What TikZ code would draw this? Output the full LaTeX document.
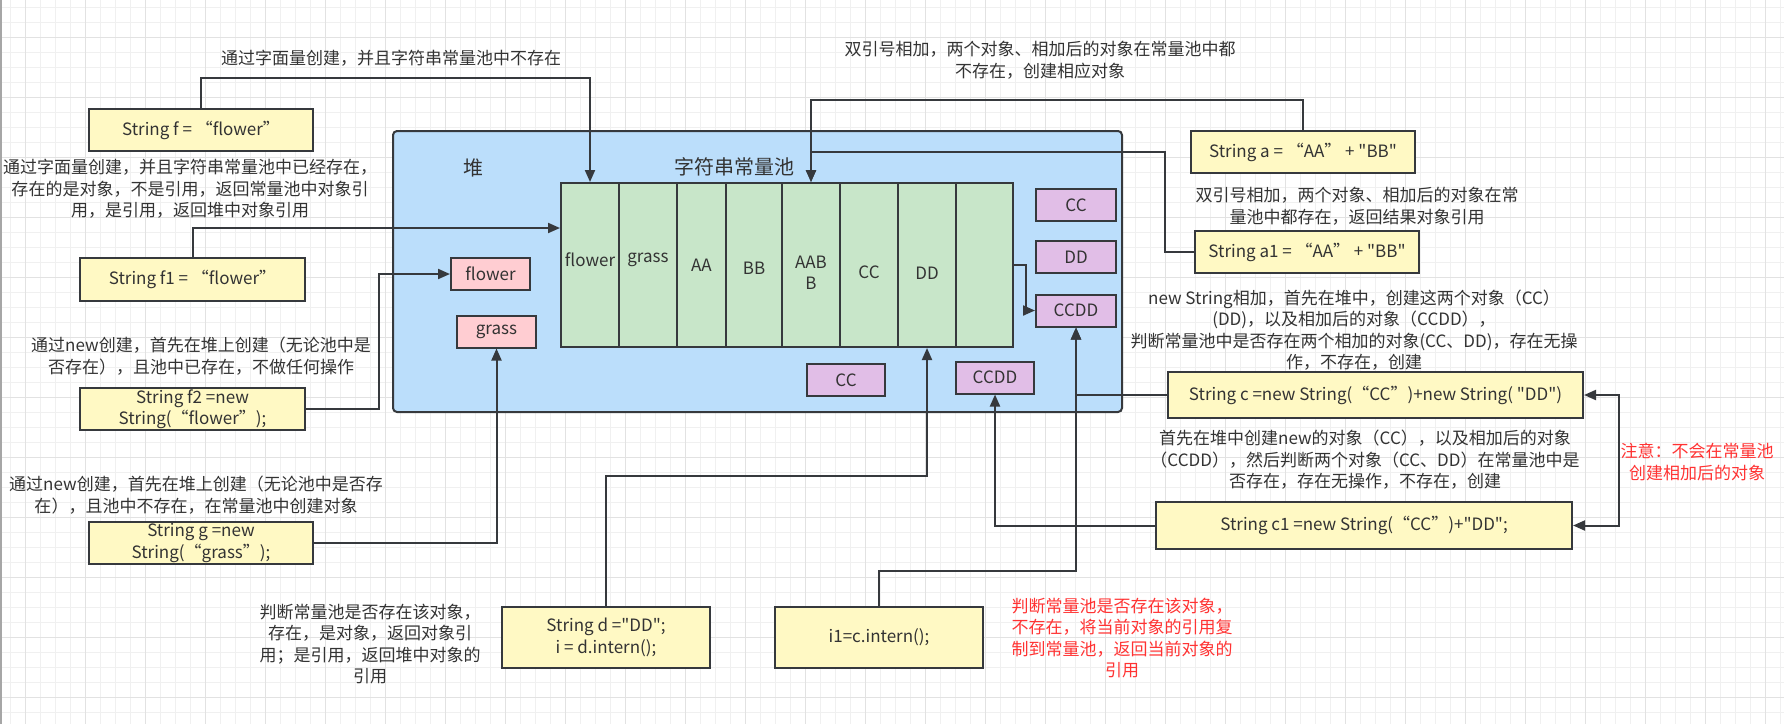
\documentclass[tikz,border=0pt]{standalone}
\usepackage{fontspec}
\newfontfamily\zhfont{Noto Sans CJK SC}
\usetikzlibrary{arrows.meta}
\definecolor{bd}{HTML}{36393D}
\definecolor{txt}{HTML}{333333}
\definecolor{yel}{HTML}{FFF9C4}
\definecolor{heapc}{HTML}{BBDEFB}
\definecolor{grn}{HTML}{C8E6C9}
\definecolor{pnk}{HTML}{FFCDD2}
\definecolor{pur}{HTML}{E1BEE7}
\definecolor{notered}{HTML}{FF3333}
\definecolor{gmin}{HTML}{F0F0F0}
\definecolor{gmaj}{HTML}{E2E2E2}
\begin{document}
\begin{tikzpicture}[x=1pt,y=-1pt,font=\zhfont\fontsize{17}{21.5}\selectfont]
\tikzset{
  gridminor/.style={draw=gmin,line width=1pt},
  gridmajor/.style={draw=gmaj,line width=1pt},
  ybox/.style={draw=bd,line width=2pt,fill=yel,text=txt,align=center,inner sep=0pt},
  heapbox/.style={draw=bd,line width=2pt,fill=heapc,rounded corners=4pt,inner sep=0pt},
  cell/.style={draw=bd,line width=2pt,fill=grn,inner sep=0pt,minimum height=164pt},
  pbox/.style={draw=bd,line width=2pt,fill=pur,text=txt,inner sep=0pt,minimum width=80pt,minimum height=32pt},
  kbox/.style={draw=bd,line width=2pt,fill=pnk,text=txt,inner sep=0pt,minimum width=79pt,minimum height=32pt},
  lbl/.style={text=txt,align=center,inner sep=0pt},
  rlbl/.style={text=notered,align=center,inner sep=0pt},
  conn/.style={draw=bd,line width=2pt,-{Triangle[length=12pt,width=10pt]}},
  link/.style={draw=bd,line width=2pt}
}
\useasboundingbox (0,0) rectangle (1784,724);
\fill[white] (0,0) rectangle (1784,724);
% grid
\foreach \i in {0,...,118} { \draw[gridminor] ({10+15*\i},0) -- ({10+15*\i},724); }
\foreach \i in {0,...,47} { \draw[gridminor] (0,{7+15*\i}) -- (1784,{7+15*\i}); }
\foreach \i in {0,...,29} { \draw[gridmajor] ({25+60*\i},0) -- ({25+60*\i},724); }
\foreach \i in {0,...,11} { \draw[gridmajor] (0,{37+60*\i}) -- (1784,{37+60*\i}); }
\draw[draw=gray!70,line width=1.5pt] (0.75,0) -- (0.75,724);

% heap
\node[heapbox,minimum width=729pt,minimum height=281pt] (heap) at (757.5,271.5) {};
\node[lbl,font=\zhfont\fontsize{20}{24}\selectfont] (heaplbl) at (473,168) {堆};
\node[lbl,font=\zhfont\fontsize{20}{24}\selectfont] (poollbl) at (734,167) {字符串常量池};

% pool cells
\node[cell,minimum width=58pt] (p1) at (590,265) {};
\node[cell,minimum width=58pt] (p2) at (648,265) {};
\node[cell,minimum width=49pt] (p3) at (701.5,265) {};
\node[cell,minimum width=56pt] (p4) at (754,265) {};
\node[cell,minimum width=58pt] (p5) at (811,265) {};
\node[cell,minimum width=58pt] (p6) at (869,265) {};
\node[cell,minimum width=58pt] (p7) at (927,265) {};
\node[cell,minimum width=57pt] (p8) at (984.5,265) {};
\node[lbl] (l1) at (590,260) {flower};
\node[lbl] (l2) at (648,260) {grass};
\node[lbl] (l3) at (701.5,265) {AA};
\node[lbl] (l4) at (754,268) {BB};
\node[lbl] (l5) at (811,273) {AAB\\B};
\node[lbl] (l6) at (869,272) {CC};
\node[lbl] (l7) at (927,273) {DD};

% objects
\node[pbox] (pcc) at (1076,205) {CC};
\node[pbox] (pdd) at (1076,257) {DD};
\node[pbox] (pccdd) at (1076,310.5) {CCDD};
\node[pbox,minimum width=78pt] (hcc) at (846,380) {CC};
\node[pbox,minimum width=78pt] (hccdd) at (995,377.5) {CCDD};
\node[kbox] (hflower) at (490.5,274) {flower};
\node[kbox] (hgrass) at (496.5,331.5) {grass};

% code boxes
\node[ybox,minimum width=224pt,minimum height=42pt] (f) at (201,130) {String f = “flower”};
\node[ybox,minimum width=225pt,minimum height=43pt] (f1) at (192.5,279.5) {String f1 = “flower”};
\node[ybox,minimum width=225pt,minimum height=42pt] (f2) at (192.5,409) {String f2 =new\\String(“flower”);};
\node[ybox,minimum width=224pt,minimum height=42pt] (g) at (201,543) {String g =new\\String(“grass”);};
\node[ybox,minimum width=224pt,minimum height=42pt] (a) at (1303,152) {String a = “AA” + "BB"};
\node[ybox,minimum width=224pt,minimum height=42pt] (a1) at (1307,252) {String a1 = “AA” + "BB"};
\node[ybox,minimum width=415pt,minimum height=46pt] (c) at (1375.5,395) {String c =new String(“CC”)+new String( "DD")};
\node[ybox,minimum width=416pt,minimum height=47pt] (c1) at (1364,525.5) {String c1 =new String(“CC”)+"DD";};
\node[ybox,minimum width=208pt,minimum height=61pt] (d) at (606,637.5) {String d ="DD";\\i = d.intern();};
\node[ybox,minimum width=208pt,minimum height=61pt] (i1) at (879,637.5) {i1=c.intern();};

% labels
\node[lbl] (t1) at (391,58) {通过字面量创建，并且字符串常量池中不存在};
\node[lbl] (t2) at (190,189) {通过字面量创建，并且字符串常量池中已经存在，\\存在的是对象，不是引用，返回常量池中对象引\\用，是引用，返回堆中对象引用};
\node[lbl] (t3) at (201,356) {通过new创建，首先在堆上创建（无论池中是\\否存在），且池中已存在，不做任何操作};
\node[lbl] (t4) at (196,495) {通过new创建，首先在堆上创建（无论池中是否存\\在），且池中不存在，在常量池中创建对象};
\node[lbl] (t5) at (1040,60) {双引号相加，两个对象、相加后的对象在常量池中都\\不存在，创建相应对象};
\node[lbl] (t6) at (1357,206) {双引号相加，两个对象、相加后的对象在常\\量池中都存在，返回结果对象引用};
\node[lbl] (t7) at (1354,330) {new String相加，首先在堆中，创建这两个对象（CC）\\(DD)，以及相加后的对象（CCDD），\\判断常量池中是否存在两个相加的对象(CC、DD)，存在无操\\作，不存在，创建};
\node[lbl] (t8) at (1365,460) {首先在堆中创建new的对象（CC），以及相加后的对象\\（CCDD），然后判断两个对象（CC、DD）在常量池中是\\否存在，存在无操作，不存在，创建};
\node[lbl] (t9) at (370,644) {判断常量池是否存在该对象，\\存在，是对象，返回对象引\\用；是引用，返回堆中对象的\\引用};
\node[rlbl] (t10) at (1122,638) {判断常量池是否存在该对象，\\不存在，将当前对象的引用复\\制到常量池，返回当前对象的\\引用};
\node[rlbl] (note) at (1697,462) {注意：不会在常量池\\创建相加后的对象};

% connectors
\draw[conn] (f.north) -- ++(0,-30) -| (p1.north);
\draw[conn] (f1.north) |- ([yshift=37pt]p1.west);
\draw[conn] (f2.east) -- ++(73,0) |- (hflower.west);
\draw[conn] (g.east) -| (hgrass.south);
\draw[conn] (a.north) -- ++(0,-30) -| (p5.north);
\draw[conn] (a1.west) -- ++(-29,0) |- ([yshift=30pt]p5.north) -- (p5.north);
\draw[conn] (p8.east) -- ++(12,0) |- (pccdd.west);
\draw[conn] (c.west) -| (pccdd.south);
\draw[conn] (c1.west) -| (hccdd.south);
\draw[conn] (d.north) -- ++(0,-130) -| (p7.south);
\draw[conn] (i1.north) -- ++(0,-35) -| (pccdd.south);
\coordinate (nm) at (1619,460);
\draw[conn] (nm) |- (c.east);
\draw[conn] (nm) |- (c1.east);
\end{tikzpicture}
\end{document}
